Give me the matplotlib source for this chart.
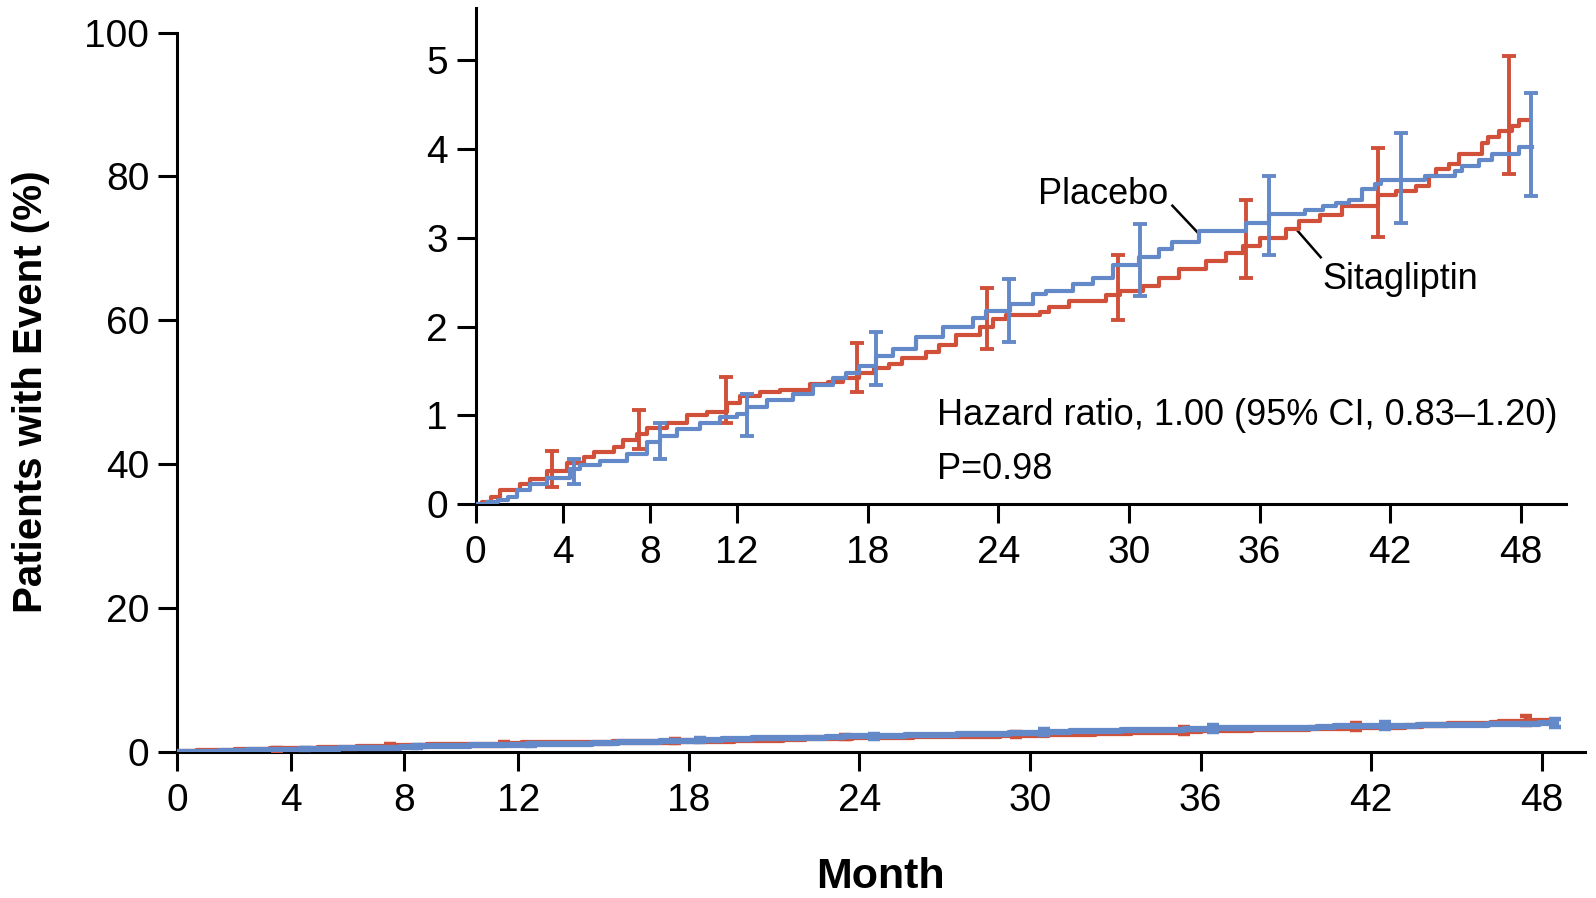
import matplotlib
matplotlib.use("Agg")
import matplotlib.pyplot as plt

# step curves, cumulative incidence (%)
sita_t = [0, 0.3, 0.7, 1.13, 2.05, 2.5, 3.27, 4.19, 4.95, 5.41, 6.33, 6.78, 7.4, 7.86,
          8.78, 9.69, 10.61, 11.53, 12.14, 13.05, 13.97, 15.35, 16.2, 16.88, 17.6, 18.3,
          19.0, 19.6, 20.7, 21.3, 22.08, 23.14, 23.75, 24.37, 25.9, 26.35, 27.27, 28.95,
          29.57, 30.63, 31.4, 32.3, 33.54, 34.46, 35.22, 36.0, 37.2, 37.8, 38.8, 39.8,
          41.45, 42.25, 43.2, 43.8, 44.1, 44.7, 45.15, 46.2, 46.5, 47.0, 47.6, 47.9, 48.4]
sita_y = [0, 0.03, 0.08, 0.16, 0.23, 0.29, 0.38, 0.46, 0.53, 0.59, 0.65, 0.72, 0.79, 0.86,
          0.92, 1.0, 1.04, 1.14, 1.22, 1.26, 1.29, 1.35, 1.38, 1.42, 1.48, 1.53,
          1.58, 1.65, 1.71, 1.79, 1.9, 1.99, 2.09, 2.13, 2.16, 2.22, 2.29, 2.35,
          2.4, 2.46, 2.55, 2.65, 2.74, 2.83, 2.91, 3.0, 3.1, 3.19, 3.25, 3.36,
          3.48, 3.53, 3.58, 3.70, 3.77, 3.83, 3.94, 4.07, 4.13, 4.2, 4.26, 4.33, 4.33]

plac_t = [0, 0.5, 1.0, 1.5, 1.9, 2.5, 3.27, 4.34, 4.8, 5.71, 6.94, 7.86, 8.47, 9.23,
          10.3, 11.22, 11.98, 12.44, 13.36, 14.58, 15.5, 16.42, 17.0, 17.6, 18.4, 19.17,
          20.24, 21.46, 22.84, 23.45, 24.52, 25.59, 26.2, 27.42, 28.34, 29.26, 30.48,
          31.4, 32.0, 33.2, 35.4, 36.45, 38.1, 38.9, 39.5, 40.1, 40.7, 41.3, 41.6, 43.6,
          45.0, 45.3, 46.1, 46.7, 47.9, 48.5]
plac_y = [0, 0.03, 0.05, 0.08, 0.16, 0.23, 0.3, 0.4, 0.44, 0.49, 0.57, 0.7, 0.77, 0.85,
          0.92, 0.98, 1.02, 1.09, 1.17, 1.24, 1.34, 1.42, 1.48, 1.56, 1.67, 1.75,
          1.88, 1.99, 2.1, 2.18, 2.25, 2.37, 2.4, 2.48, 2.55, 2.69, 2.78,
          2.87, 2.95, 3.08, 3.16, 3.27, 3.31, 3.36, 3.39, 3.43, 3.55, 3.6, 3.65, 3.70,
          3.75, 3.81, 3.87, 3.94, 4.02, 4.02]

# 95% CI bars
sita_bar_t = [3.5, 7.5, 11.5, 17.5, 23.5, 29.5, 35.4, 41.45, 47.45]
sita_bar_mid = [0.38, 0.79, 1.14, 1.48, 2.05, 2.4, 2.91, 3.48, 4.2]
sita_bar_lo = [0.2, 0.62, 0.91, 1.26, 1.75, 2.07, 2.55, 3.01, 3.72]
sita_bar_hi = [0.6, 1.06, 1.43, 1.82, 2.43, 2.8, 3.42, 4.01, 5.05]

plac_bar_t = [4.5, 8.45, 12.45, 18.4, 24.5, 30.5, 36.45, 42.5, 48.45]
plac_bar_mid = [0.4, 0.7, 1.02, 1.67, 2.18, 2.78, 3.27, 3.65, 4.02]
plac_bar_lo = [0.23, 0.51, 0.77, 1.34, 1.83, 2.34, 2.8, 3.17, 3.47]
plac_bar_hi = [0.51, 0.91, 1.24, 1.94, 2.53, 3.15, 3.7, 4.18, 4.63]

x_ticks = [0, 4, 8, 12, 18, 24, 30, 36, 42, 48]
main_y_ticks = [0, 20, 40, 60, 80, 100]
inset_y_ticks = [0, 1, 2, 3, 4, 5]

red = "#D0503A"
blue = "#6489C8"
tick_font = ["Liberation Sans", "DejaVu Sans"]

fig = plt.figure(figsize=(15.96, 8.98), dpi=100)
ax = fig.add_axes([0.1109, 0.1626, 0.8822, 0.8012])
ins = fig.add_axes([0.2981, 0.4384, 0.6830, 0.5527])
ins.set_facecolor("none")


def draw(a, lw, bar_lw, cap):
    a.step(sita_t, sita_y, where="post", color=red, lw=lw, zorder=3)
    a.errorbar(sita_bar_t, sita_bar_mid,
               yerr=[[m - l for m, l in zip(sita_bar_mid, sita_bar_lo)],
                     [h - m for m, h in zip(sita_bar_mid, sita_bar_hi)]],
               fmt="none", ecolor=red, elinewidth=bar_lw, capsize=cap, capthick=bar_lw, zorder=3)
    a.step(plac_t, plac_y, where="post", color=blue, lw=lw, zorder=4)
    a.errorbar(plac_bar_t, plac_bar_mid,
               yerr=[[m - l for m, l in zip(plac_bar_mid, plac_bar_lo)],
                     [h - m for m, h in zip(plac_bar_mid, plac_bar_hi)]],
               fmt="none", ecolor=blue, elinewidth=bar_lw, capsize=cap, capthick=bar_lw, zorder=4)


def style(a):
    for s in ["top", "right"]:
        a.spines[s].set_visible(False)
    for s in ["left", "bottom"]:
        a.spines[s].set_linewidth(2.2)
    a.tick_params(direction="out", length=14, width=2.2, labelsize=28, pad=6)
    a.tick_params(axis="x", pad=8)
    for lab in a.get_xticklabels() + a.get_yticklabels():
        lab.set_family(tick_font)


draw(ax, 4.5, 3.2, 4.5)
ax.set_xlim(0, 49.52)
ax.set_ylim(0, 100)
ax.set_xticks(x_ticks)
ax.set_yticks(main_y_ticks)
style(ax)

draw(ins, 3.0, 2.8, 4.7)
ins.set_xlim(0, 50.07)
ins.set_ylim(0, 5.585)
ins.set_xticks(x_ticks)
ins.set_yticks(inset_y_ticks)
style(ins)

# labels
ins.text(31.8, 3.38, "Placebo", ha="right", va="baseline", fontsize=26, family=tick_font)
ins.plot([32.0, 33.23], [3.36, 3.04], color="black", lw=1.8)
ins.text(38.9, 2.42, "Sitagliptin", ha="left", va="baseline", fontsize=26, family=tick_font)
ins.plot([37.67, 38.81], [3.10, 2.78], color="black", lw=1.8)
ins.text(21.17, 0.887, "Hazard ratio, 1.00 (95% CI, 0.83\u20131.20)", ha="left", va="baseline",
         fontsize=26, family=tick_font)
ins.text(21.17, 0.29, "P=0.98", ha="left", va="baseline", fontsize=26, family=tick_font)

fig.text(31.5 / 1596, 1 - 392 / 898, "Patients with Event (%)", rotation=90, ha="center",
         va="center", fontsize=29, fontweight="bold", family=["Liberation Sans", "DejaVu Sans"])
fig.text(880 / 1596, 1 - 888 / 898, "Month", ha="center", va="baseline", fontsize=31,
         fontweight="bold", family=tick_font)

fig.savefig("out.png", dpi=100)
